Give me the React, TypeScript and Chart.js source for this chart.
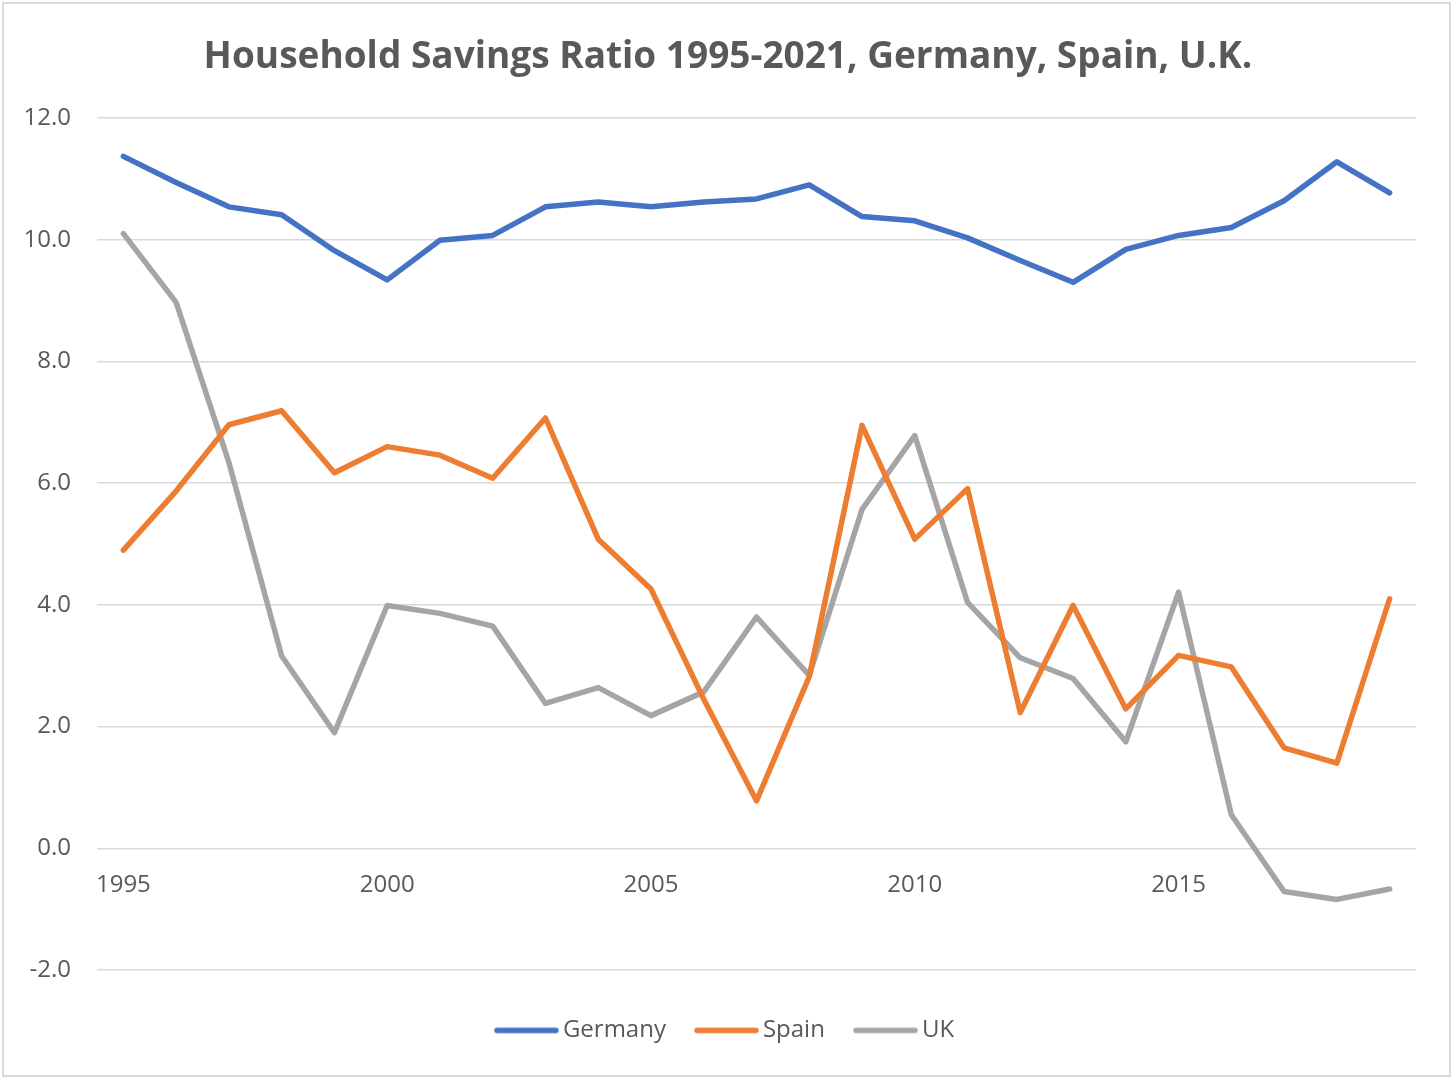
import React, { useEffect, useRef } from "react";
import { Chart, registerables } from "chart.js";

Chart.register(...registerables);

const TITLE = "Household Savings Ratio 1995-2021, Germany, Spain, U.K.";

const years = [
  "1995", "1996", "1997", "1998", "1999", "2000", "2001", "2002", "2003", "2004",
  "2005", "2006", "2007", "2008", "2009", "2010", "2011", "2012", "2013", "2014",
  "2015", "2016", "2017", "2018", "2019",
];

const germany = [
  11.37, 10.94, 10.54, 10.41, 9.82, 9.34, 9.99, 10.07, 10.54, 10.62,
  10.54, 10.62, 10.67, 10.9, 10.38, 10.31, 10.03, 9.66, 9.3, 9.84,
  10.07, 10.2, 10.64, 11.28, 10.77,
];

const spain = [
  4.9, 5.87, 6.96, 7.19, 6.17, 6.6, 6.46, 6.08, 7.07, 5.08,
  4.26, 2.45, 0.78, 2.82, 6.95, 5.08, 5.91, 2.23, 3.99, 2.29,
  3.17, 2.98, 1.65, 1.4, 4.1,
];

const uk = [
  10.1, 8.97, 6.34, 3.16, 1.9, 3.99, 3.86, 3.65, 2.38, 2.64,
  2.18, 2.57, 3.8, 2.84, 5.57, 6.78, 4.04, 3.13, 2.79, 1.75,
  4.21, 0.55, -0.71, -0.84, -0.67,
];

const seriesNames = ["Germany", "Spain", "UK"];
const seriesColors = ["#4472C4", "#ED7D31", "#A5A5A5"];

const FONT = "'Open Sans', 'Noto Sans', sans-serif";
const TEXT = "#595959";

function lineImage(color: string): HTMLCanvasElement {
  const c = document.createElement("canvas");
  c.width = 65;
  c.height = 8;
  const ctx = c.getContext("2d")!;
  ctx.strokeStyle = color;
  ctx.lineWidth = 5.5;
  ctx.lineCap = "round";
  ctx.beginPath();
  ctx.moveTo(3, 4);
  ctx.lineTo(62, 4);
  ctx.stroke();
  return c;
}

const frame = {
  id: "frame",
  beforeDraw(chart: any) {
    const { ctx, width, height } = chart;
    ctx.save();
    ctx.fillStyle = "#ffffff";
    ctx.fillRect(0, 0, width, height);
    ctx.strokeStyle = "#d9d9d9";
    ctx.lineWidth = 2;
    ctx.strokeRect(3, 3, 1447, 1073);
    ctx.restore();
  },
};

export default function App() {
  const ref = useRef<HTMLCanvasElement | null>(null);

  useEffect(() => {
    document.body.style.margin = "0";
    if (!ref.current) return;
    const values = [germany, spain, uk];
    const chart = new Chart(ref.current, {
      type: "line",
      data: {
        labels: years,
        datasets: values.map((v, i) => ({
          label: seriesNames[i],
          data: v,
          borderColor: seriesColors[i],
          backgroundColor: seriesColors[i],
          borderWidth: 5.5,
          borderCapStyle: "round" as const,
          borderJoinStyle: "round" as const,
          pointRadius: 0,
          pointHoverRadius: 0,
          pointStyle: lineImage(seriesColors[i]) as any,
          tension: 0,
          fill: false,
        })),
      },
      options: {
        animation: false,
        responsive: false,
        devicePixelRatio: 1,
        layout: { padding: { left: 0, right: 0, top: 0, bottom: 29.6 } },
        plugins: {
          title: {
            display: true,
            text: TITLE,
            color: TEXT,
            font: { family: FONT, size: 37, weight: "bold" },
            padding: { top: 35, bottom: 38.6 },
          },
          legend: {
            display: true,
            position: "bottom",
            title: { display: true, text: " ", font: { size: 2 }, padding: { top: 5, bottom: 5 } },
            labels: {
              usePointStyle: true,
              pointStyleWidth: 49,
              padding: 36,
              color: TEXT,
              font: { family: FONT, size: 24 },
            },
          },
          tooltip: { enabled: false },
        },
        scales: {
          x: {
            type: "category",
            position: { y: 0 } as any,
            offset: true,
            grid: { display: false },
            border: { display: false },
            ticks: {
              autoSkip: false,
              maxRotation: 0,
              minRotation: 0,
              padding: 14,
              color: TEXT,
              font: { family: FONT, size: 24 },
              callback: (_v: any, index: number) =>
                Number(years[index]) % 5 === 0 ? years[index] : "",
            },
          },
          y: {
            min: -2,
            max: 12,
            afterFit: (scale: any) => {
              scale.width = 97;
            },
            grid: { color: "#d9d9d9", lineWidth: 1.5, drawTicks: false },
            border: { display: false },
            ticks: {
              stepSize: 2,
              padding: 26,
              color: TEXT,
              font: { family: FONT, size: 24 },
              callback: (v: any) => Number(v).toFixed(1),
            },
          },
          spacer: {
            type: "linear",
            position: "right",
            display: true,
            grid: { display: false, drawTicks: false },
            border: { display: false },
            ticks: { display: false },
            afterFit: (scale: any) => {
              scale.width = 40;
            },
          },
        },
      },
      plugins: [frame],
    });
    return () => chart.destroy();
  }, []);

  return (
    <div style={{ width: 1456, height: 1082 }}>
      <canvas ref={ref} width={1456} height={1082} />
    </div>
  );
}
